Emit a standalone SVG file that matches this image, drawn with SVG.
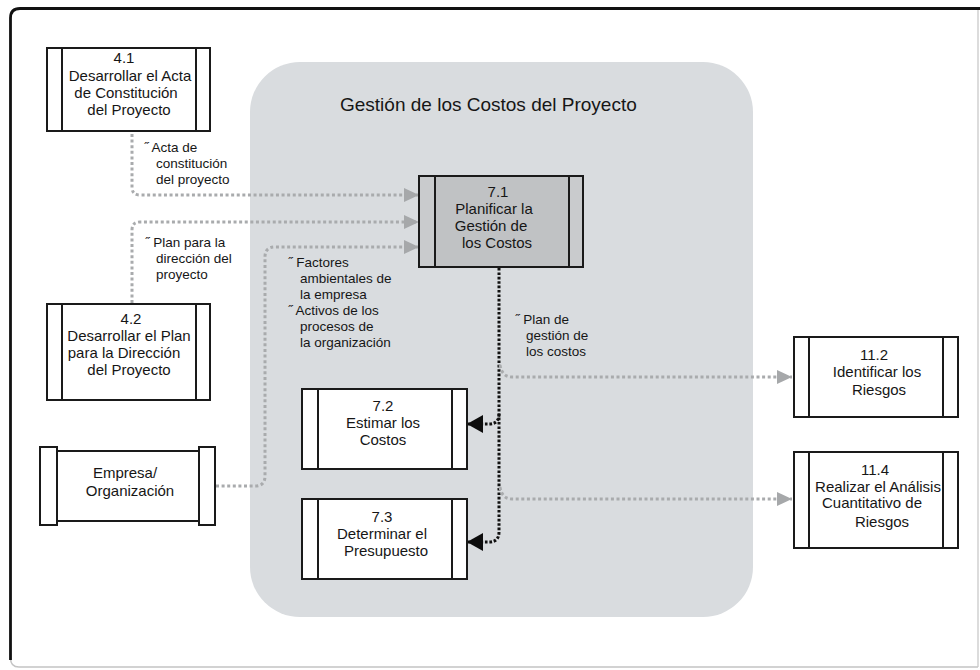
<svg xmlns="http://www.w3.org/2000/svg" width="980" height="670" viewBox="0 0 980 670">
<style>
  text { font-family: "Liberation Sans", Arial, sans-serif; fill: #161616; }
  .nt { font-size: 15px; text-anchor: middle; }
  .lb { font-size: 13.5px; }
  .title { font-size: 19px; }
  .box { fill: #ffffff; stroke: #1a1a1a; stroke-width: 2; }
  .bar { fill: none; stroke: #1a1a1a; stroke-width: 2; }
  .g71 { fill: #c9cbcd; stroke: #1a1a1a; stroke-width: 2; }
  .g71in { fill: #c0c2c4; stroke: #1a1a1a; stroke-width: 2; }
  .gray { fill: none; stroke: #a9abad; stroke-width: 3; stroke-dasharray: 3 2.6; marker-end: url(#ag); }
  .grayn { fill: none; stroke: #a9abad; stroke-width: 3; stroke-dasharray: 3 2.6; }
  .blk { fill: none; stroke: #111111; stroke-width: 3; stroke-dasharray: 2.6 1.8; }
  .blka { fill: none; stroke: #111111; stroke-width: 3; stroke-dasharray: 2.6 1.8; marker-end: url(#ab); }
</style>
<defs>
  <marker id="ag" markerUnits="userSpaceOnUse" markerWidth="15" markerHeight="14" refX="15" refY="7" orient="auto">
    <path d="M0,0 L15,7 L0,14 Z" fill="#a6a8aa"/>
  </marker>
  <marker id="ab" markerUnits="userSpaceOnUse" markerWidth="16" markerHeight="18" refX="16" refY="9" orient="auto">
    <path d="M0,0 L16,9 L0,18 Z" fill="#0d0d0d"/>
  </marker>
</defs>

<!-- outer frame -->
<path d="M978 667 L978 10" fill="none" stroke="#d0d0d0" stroke-width="1.5"/>
<path d="M10.5 658 Q10.5 667 19 667 L978 667" fill="none" stroke="#c4c4c4" stroke-width="1.5"/>
<path d="M10.5 660 L10.5 18 Q10.5 8.5 20 8.5 L980 8.5" fill="none" stroke="#111111" stroke-width="2.8"/>

<!-- cost management panel -->
<g id="panel">
  <rect x="250" y="62" width="503" height="555" rx="50" ry="50" fill="#d9dcdf"/>
  <text class="title" x="340" y="111">Gestión de los Costos del Proyecto</text>
</g>

<!-- connectors -->
<g id="connectors">
  <path class="gray" d="M132 134 L132 187 Q132 195 140 195 L419 195"/>
  <path class="gray" d="M132 303 L132 230 Q132 222 140 222 L419 222"/>
  <path class="gray" d="M216 486 L255 486 Q265 486 265 476 L265 257 Q265 247 275 247 L419 247"/>
  <path class="blk" d="M499 268 L499 532"/>
  <path class="blka" d="M499 532 Q499 542 489 542 L467 542"/>
  <path class="blka" d="M499 414 Q499 424 489 424 L467 424"/>
  <path class="gray" d="M500 365 Q502 377 512 377 L792 377"/>
  <path class="gray" d="M500 487 Q502 499 512 499 L792 499"/>
</g>

<!-- connector labels -->
<g id="labels">
  <text class="lb" x="144" y="152">˝ Acta de</text>
  <text class="lb" x="156" y="168">constitución</text>
  <text class="lb" x="156" y="184">del proyecto</text>

  <text class="lb" x="145" y="247">˝ Plan para la</text>
  <text class="lb" x="156" y="263">dirección del</text>
  <text class="lb" x="156" y="279">proyecto</text>

  <text class="lb" x="288" y="267">˝ Factores</text>
  <text class="lb" x="300" y="283">ambientales de</text>
  <text class="lb" x="300" y="299">la empresa</text>
  <text class="lb" x="288" y="315">˝ Activos de los</text>
  <text class="lb" x="300" y="331">procesos de</text>
  <text class="lb" x="300" y="347">la organización</text>

  <text class="lb" x="515" y="324">˝ Plan de</text>
  <text class="lb" x="526" y="340">gestión de</text>
  <text class="lb" x="526" y="356">los costos</text>
</g>

<!-- nodes -->
<g id="n41">
  <rect class="box" x="47" y="48" width="163" height="83"/>
  <line class="bar" x1="62" y1="48" x2="62" y2="131"/>
  <line class="bar" x1="196" y1="48" x2="196" y2="131"/>
  <text class="nt" x="124" y="63">4.1</text>
  <text class="nt" x="130" y="81">Desarrollar el Acta</text>
  <text class="nt" x="126" y="98">de Constitución</text>
  <text class="nt" x="129" y="115">del Proyecto</text>
</g>

<g id="n42">
  <rect class="box" x="47" y="304" width="163" height="96"/>
  <line class="bar" x1="62" y1="304" x2="62" y2="400"/>
  <line class="bar" x1="196" y1="304" x2="196" y2="400"/>
  <text class="nt" x="131" y="324">4.2</text>
  <text class="nt" x="129" y="341">Desarrollar el Plan</text>
  <text class="nt" x="124" y="358">para la Dirección</text>
  <text class="nt" x="129" y="375">del Proyecto</text>
</g>

<g id="empresa">
  <rect class="box" x="57" y="451" width="142" height="70"/>
  <rect class="box" x="40" y="447" width="17" height="78"/>
  <rect class="box" x="199" y="447" width="16" height="78"/>
  <text class="nt" x="125" y="478">Empresa/</text>
  <text class="nt" x="130" y="496">Organización</text>
</g>

<g id="n71">
  <rect class="g71" x="419" y="176" width="164" height="91"/>
  <rect class="g71in" x="435" y="176" width="134" height="91"/>
  <text class="nt" x="498" y="197">7.1</text>
  <text class="nt" x="494" y="214">Planificar la</text>
  <text class="nt" x="491" y="231">Gestión de</text>
  <text class="nt" x="497" y="248">los Costos</text>
</g>

<g id="n72">
  <rect class="box" x="302" y="389" width="165" height="80"/>
  <line class="bar" x1="318" y1="389" x2="318" y2="469"/>
  <line class="bar" x1="452" y1="389" x2="452" y2="469"/>
  <text class="nt" x="383" y="411">7.2</text>
  <text class="nt" x="383" y="428">Estimar los</text>
  <text class="nt" x="383" y="445">Costos</text>
</g>

<g id="n73">
  <rect class="box" x="302" y="499" width="165" height="80"/>
  <line class="bar" x1="318" y1="499" x2="318" y2="579"/>
  <line class="bar" x1="452" y1="499" x2="452" y2="579"/>
  <text class="nt" x="382" y="522">7.3</text>
  <text class="nt" x="382" y="539">Determinar el</text>
  <text class="nt" x="386" y="556">Presupuesto</text>
</g>

<g id="n112">
  <rect class="box" x="794" y="337" width="164" height="80"/>
  <line class="bar" x1="809" y1="337" x2="809" y2="417"/>
  <line class="bar" x1="943" y1="337" x2="943" y2="417"/>
  <text class="nt" x="874" y="360">11.2</text>
  <text class="nt" x="877" y="377">Identificar los</text>
  <text class="nt" x="879" y="395">Riesgos</text>
</g>

<g id="n114">
  <rect class="box" x="794" y="452" width="164" height="96"/>
  <line class="bar" x1="809" y1="452" x2="809" y2="548"/>
  <line class="bar" x1="943" y1="452" x2="943" y2="548"/>
  <text class="nt" x="875" y="475">11.4</text>
  <text class="nt" x="878" y="492">Realizar el Análisis</text>
  <text class="nt" x="872" y="508">Cuantitativo de</text>
  <text class="nt" x="882" y="527">Riesgos</text>
</g>
</svg>
